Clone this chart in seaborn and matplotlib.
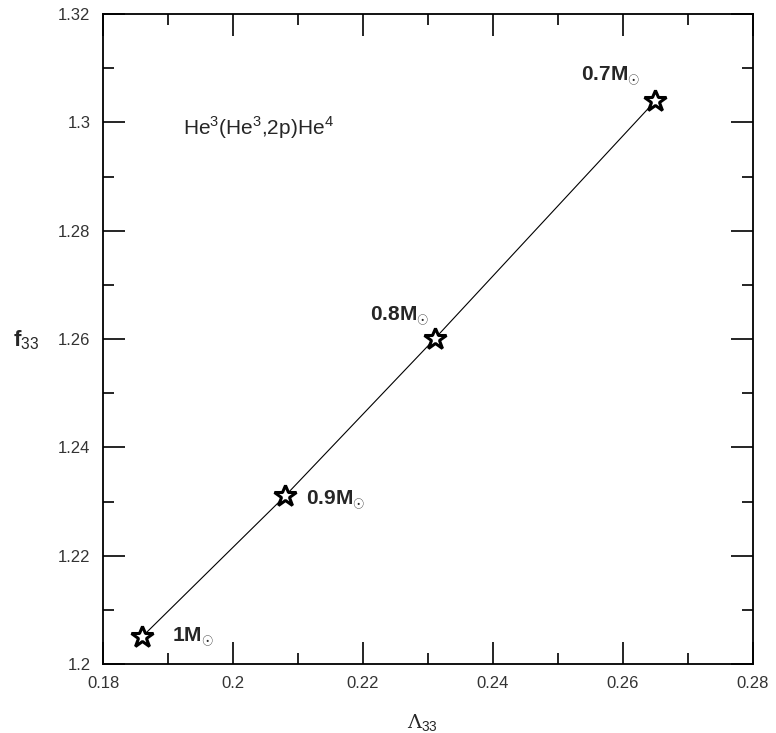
import numpy as np
import pandas as pd
import matplotlib.pyplot as plt
import seaborn as sns
from matplotlib.ticker import MultipleLocator

# values
lam33 = [0.186, 0.208, 0.231, 0.265]
f33 = [1.205, 1.231, 1.260, 1.304]
mass_labels = [r"1M$_{\odot}$", r"0.9M$_{\odot}$", r"0.8M$_{\odot}$", r"0.7M$_{\odot}$"]
label_offsets = [(30, 0), (21, -4), (-64, 23), (-74, 24)]  # pixels from the star

x_ticks = [0.18, 0.2, 0.22, 0.24, 0.26, 0.28]
y_ticks = [1.2, 1.22, 1.24, 1.26, 1.28, 1.3, 1.32]

df = pd.DataFrame({"lam": lam33, "f": f33})

sns.set_style("white")
plt.rcParams['font.family'] = ['Liberation Sans', 'DejaVu Sans']
plt.rcParams['mathtext.fontset'] = 'custom'
plt.rcParams['mathtext.rm'] = 'Liberation Sans'
plt.rcParams['mathtext.bf'] = 'Liberation Sans:bold'

fig = plt.figure(figsize=(7.76, 7.33), dpi=100)
ax = fig.add_axes([103/776, 1 - 664/733, 650/776, 650/733])

sns.lineplot(data=df, x="lam", y="f", sort=False, ax=ax, color="black",
             linewidth=0.8, marker="*", markersize=16.5, markerfacecolor="white",
             markeredgecolor="black", markeredgewidth=2.2)

for x, y, lab, off in zip(lam33, f33, mass_labels, label_offsets):
    ax.annotate(lab, (x, y), xytext=off, textcoords="offset pixels",
                ha="left", va="center", fontsize=15, fontweight="bold")

ax.text((183 - 103) / 650, (664 - 128) / 650, r"He$^3$(He$^3$,2p)He$^4$",
        transform=ax.transAxes, ha="left", va="center", fontsize=15)

ax.set_xlim(0.18, 0.28)
ax.set_ylim(1.2, 1.32)
ax.set_xticks(x_ticks)
ax.set_yticks(y_ticks)
ax.set_xticklabels(["0.18", "0.2", "0.22", "0.24", "0.26", "0.28"])
ax.set_yticklabels(["1.2", "1.22", "1.24", "1.26", "1.28", "1.3", "1.32"])
ax.xaxis.set_minor_locator(MultipleLocator(0.01))
ax.yaxis.set_minor_locator(MultipleLocator(0.01))
ax.tick_params(which="both", direction="in", top=True, right=True,
               bottom=True, left=True, colors="black", labelcolor="#333333",
               labelsize=12, width=1.2)
ax.tick_params(which="major", length=16, pad=9)
ax.tick_params(which="minor", length=8)

for sp in ax.spines.values():
    sp.set_visible(True)
    sp.set_color("black")
    sp.set_linewidth(1.3)

ax.set_xlabel(r"Λ$_{33}$", fontsize=14, family=["DejaVu Serif"])
ax.xaxis.set_label_coords((422 - 103) / 650, (664 - 713) / 650)
ax.set_ylabel(r"$\mathbf{f}_{33}$", fontsize=16, rotation=0)
ax.yaxis.set_label_coords((26 - 103) / 650, (664 - 352) / 650)

fig.savefig("out.png", dpi=100)
